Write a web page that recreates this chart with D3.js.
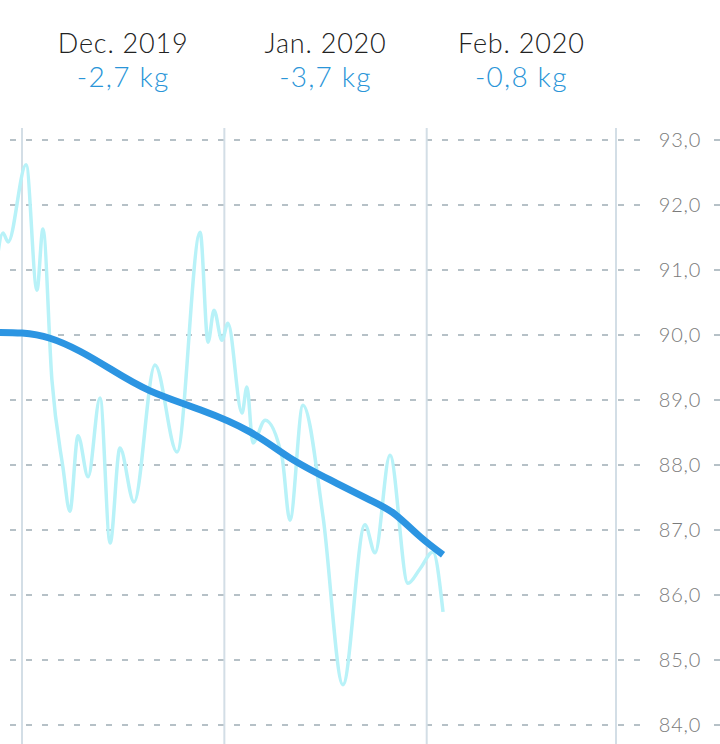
<!DOCTYPE html>
<html>
<head>
<meta charset="utf-8">
<script src="https://cdn.jsdelivr.net/npm/d3@7"></script>
<style>
  body { margin: 0; background: #fff; }
  svg { display: block; font-family: Lato, "Open Sans", sans-serif; }
</style>
</head>
<body>
<script>
// months shown in the header and their weight change
var months = ["2019-12-01", "2020-01-01", "2020-02-01", "2020-03-01"];
var monthLabels = ["Dec. 2019", "Jan. 2020", "Feb. 2020"];
var monthChange = [-2.7, -3.7, -0.8];

// y axis ticks (kg)
var yTicks = [84, 85, 86, 87, 88, 89, 90, 91, 92, 93];

// daily weigh-ins (date + hour) and weight in kg
var weighDates = [
  "2019-11-26 21", "2019-11-28 02", "2019-11-28 21", "2019-12-01 15", "2019-12-03 07",
  "2019-12-04 05", "2019-12-05 14", "2019-12-07 07", "2019-12-08 08", "2019-12-09 14",
  "2019-12-11 03", "2019-12-12 23", "2019-12-14 12", "2019-12-16 00", "2019-12-18 04",
  "2019-12-21 09", "2019-12-24 18", "2019-12-28 07", "2019-12-29 12", "2019-12-30 10",
  "2019-12-31 15", "2020-01-01 13", "2020-01-03 17", "2020-01-04 11", "2020-01-05 09",
  "2020-01-07 06", "2020-01-09 20", "2020-01-11 01", "2020-01-13 01", "2020-01-16 03",
  "2020-01-19 04", "2020-01-22 13", "2020-01-24 02", "2020-01-26 09", "2020-01-29 03",
  "2020-01-30 23", "2020-02-01 23", "2020-02-03 12"
];
var weighValues = [
  90.90, 91.57, 91.43, 92.62, 90.69,
  91.63, 89.31, 87.95, 87.29, 88.45,
  87.82, 89.03, 86.80, 88.26, 87.43,
  89.54, 88.20, 91.58, 89.89, 90.38,
  89.92, 90.18, 88.80, 89.20, 88.34,
  88.69, 88.12, 87.15, 88.92, 87.20,
  84.62, 87.08, 86.65, 88.15, 86.18,
  86.40, 86.66, 85.74
];

// smoothed trend
var trendDates = [
  "2019-11-26 21", "2019-12-01 00", "2019-12-05 07", "2019-12-09 21", "2019-12-14 12",
  "2019-12-20 15", "2019-12-28 07", "2020-01-04 22", "2020-01-11 01", "2020-01-17 05",
  "2020-01-23 08", "2020-01-27 04", "2020-01-30 23", "2020-02-03 12"
];
var trendValues = [
  90.04, 90.03, 89.95, 89.75, 89.48,
  89.14, 88.85, 88.51, 88.11, 87.77,
  87.46, 87.24, 86.90, 86.62
];

var width = 720, height = 744;
var parseDay = d3.timeParse("%Y-%m-%d");
var parseHour = d3.timeParse("%Y-%m-%d %H");
var loc = d3.formatLocale({decimal: ",", thousands: ".", grouping: [3], currency: ["", ""], minus: "-"});
var fmt1 = loc.format(".1f");

var svg = d3.select("body")
  .append("svg")
  .attr("width", width)
  .attr("height", height);

var x = d3.scaleTime()
  .domain([parseDay(months[0]), parseDay(months[3])])
  .range([22, 616]);

var y = d3.scaleLinear()
  .domain([84, 93])
  .range([725, 140]);

// dashed horizontal grid
svg.append("g")
  .selectAll("line")
  .data(yTicks)
  .join("line")
  .attr("x1", 0)
  .attr("x2", width)
  .attr("y1", d => y(d))
  .attr("y2", d => y(d))
  .attr("stroke", "#9eadb5")
  .attr("stroke-width", 1.6)
  .attr("stroke-dasharray", "6 10")
  .attr("stroke-dashoffset", 6);

// month separators
svg.append("g")
  .selectAll("line")
  .data(months)
  .join("line")
  .attr("x1", d => x(parseDay(d)))
  .attr("x2", d => x(parseDay(d)))
  .attr("y1", 128)
  .attr("y2", height)
  .attr("stroke", "#d3dee6")
  .attr("stroke-width", 2);

// header
var head = svg.append("g");
monthLabels.forEach(function(m, i) {
  var cx = (x(parseDay(months[i])) + x(parseDay(months[i + 1]))) / 2;
  head.append("text")
    .attr("x", cx)
    .attr("y", 53)
    .attr("text-anchor", "middle")
    .style("font-size", "27px")
    .style("font-weight", 300)
    .style("letter-spacing", "0.8px")
    .style("fill", "#222")
    .text(m);
  head.append("text")
    .attr("x", cx)
    .attr("y", 87)
    .attr("text-anchor", "middle")
    .style("font-size", "28px")
    .style("font-weight", 300)
    .style("letter-spacing", "1.2px")
    .style("fill", "#2a95d8")
    .text(fmt1(monthChange[i]) + " kg");
});

// weigh-in line
var weighData = weighDates.map((d, i) => ({date: parseHour(d), value: weighValues[i]}));
var trendData = trendDates.map((d, i) => ({date: parseHour(d), value: trendValues[i]}));

var line = d3.line()
  .x(d => x(d.date))
  .y(d => y(d.value))
  .curve(d3.curveMonotoneX);

var trendLine = d3.line()
  .x(d => x(d.date))
  .y(d => y(d.value))
  .curve(d3.curveNatural);

svg.append("path")
  .datum(weighData)
  .attr("d", line)
  .attr("fill", "none")
  .attr("stroke", "#b8f2f8")
  .attr("stroke-width", 3.5)
  .attr("stroke-linejoin", "round");

svg.append("path")
  .datum(trendData)
  .attr("d", trendLine)
  .attr("fill", "none")
  .attr("stroke", "#2c95e2")
  .attr("stroke-width", 7);

// y labels on the right with white backing
var lab = svg.append("g")
  .selectAll("g")
  .data(yTicks)
  .join("g")
  .attr("transform", d => "translate(680," + y(d) + ")");

lab.append("rect")
  .attr("x", -31)
  .attr("y", -10)
  .attr("width", 60)
  .attr("height", 20)
  .attr("fill", "#fff");

lab.append("text")
  .attr("text-anchor", "middle")
  .attr("dy", "0.36em")
  .style("font-size", "20px")
  .style("font-weight", 300)
  .style("letter-spacing", "0.8px")
  .style("fill", "#7a7a7a")
  .text(d => fmt1(d));
</script>
</body>
</html>
